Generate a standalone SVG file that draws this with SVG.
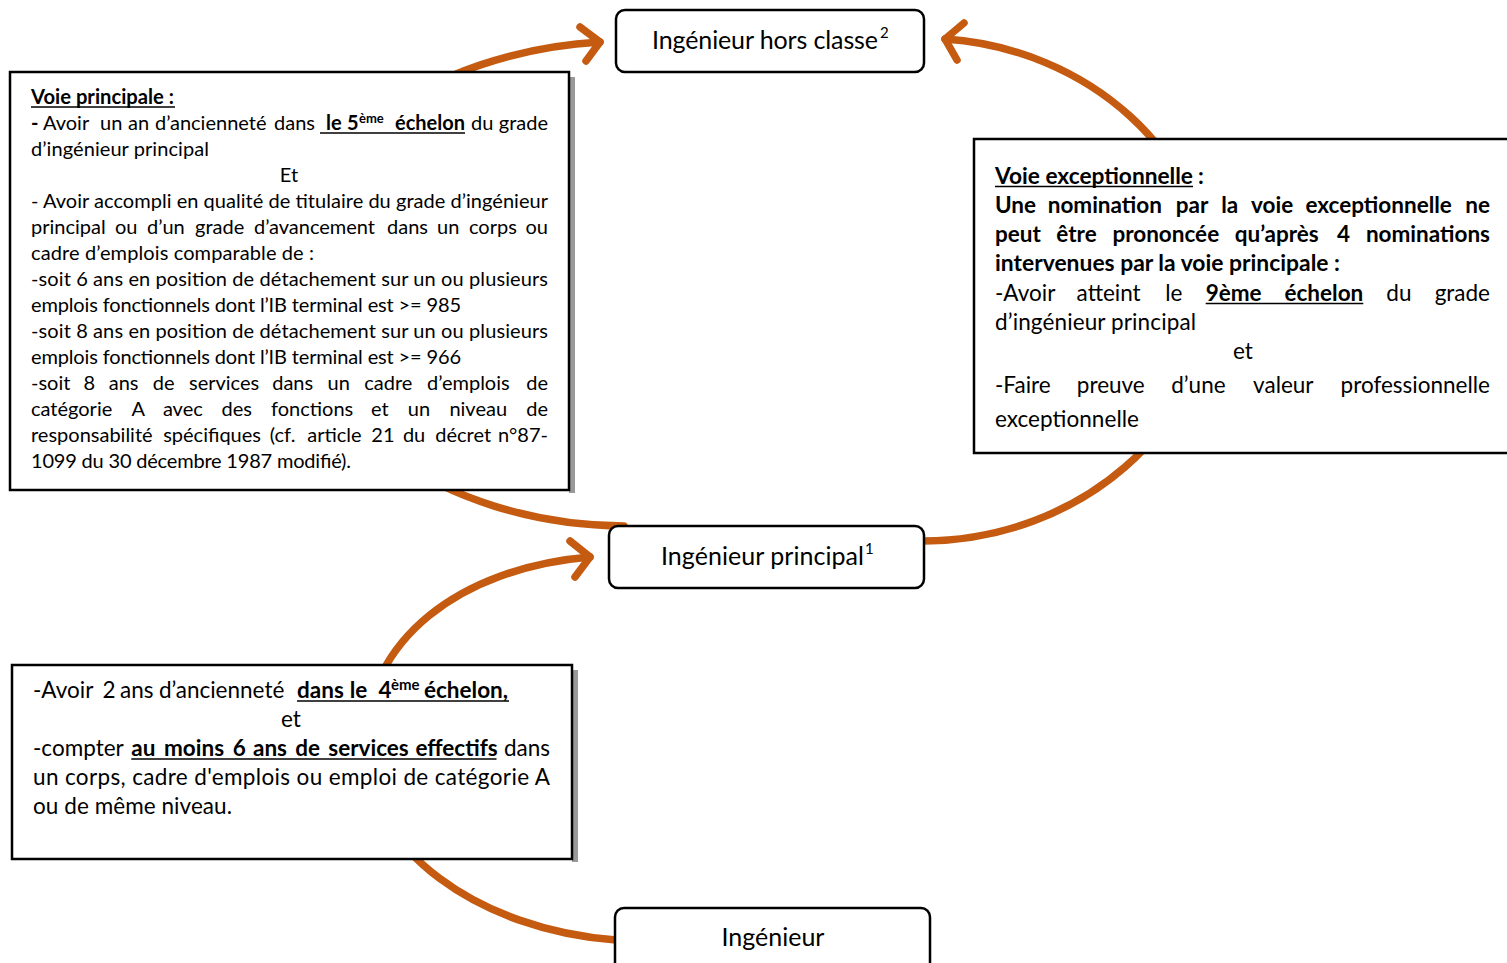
<svg xmlns="http://www.w3.org/2000/svg" width="1507" height="963" viewBox="0 0 1507 963">
<style>
.conn{fill:none;stroke:#C55A11;stroke-width:7.5;stroke-linecap:round;stroke-linejoin:round}
.box{fill:#fff;stroke:#000;stroke-width:2.5}
.node{fill:#fff;stroke:#000;stroke-width:2.5}
.shadow{fill:#999}
text{font-family:Lato,"Liberation Sans",sans-serif;fill:#000}
.s20{font-size:20px}
.s22{font-size:22.5px}
.s25{font-size:25px}
.sup{font-size:13px}
.sup2{font-size:15px}
.b{font-weight:700}
.e{text-anchor:end}
.m{text-anchor:middle}
.ul{stroke:#000;stroke-width:1.6}
</style>
<rect width="1507" height="963" fill="#fff"/>
<g id="connectors">
<path class="conn" d="M616 940 C480 930 365 850 365 746 C365 640 460 568 590 557"/>
<polyline class="conn" points="570,541 590,557 575,577"/>
<path class="conn" d="M624 526 C442 525 290 416 290 283 C290 150 430 52 600 42"/>
<polyline class="conn" points="580,27 600,42 586,61"/>
<path class="conn" d="M924 541 C1079 540 1210 428 1210 290 C1210 152 1085 48 945 39"/>
<polyline class="conn" points="964,23 945,39 957,60"/>
</g>
<g id="voie-principale">
<rect class="shadow" x="569" y="77" width="6" height="416"/>
<rect class="box" x="10" y="72" width="559" height="418"/>
<text class="s20 b" x="31" y="104" textLength="143" lengthAdjust="spacingAndGlyphs">Voie principale :</text>
<line class="ul" x1="31" y1="107" x2="175" y2="107"/>
<text class="s20" y="130"><tspan class="b" x="31">-</tspan><tspan x="43">Avoir</tspan><tspan x="100">un</tspan><tspan x="128">an</tspan><tspan x="155">d’ancienneté</tspan><tspan x="274">dans</tspan><tspan class="b" x="326">le</tspan><tspan class="b" x="347">5</tspan><tspan class="b sup" x="359" y="123">ème</tspan><tspan class="b" x="395" y="130">échelon</tspan><tspan x="471">du</tspan></text>
<text class="s20 e" x="548" y="130">grade</text>
<line class="ul" x1="320" y1="133" x2="465" y2="133"/>
<text class="s20" x="31" y="156" textLength="178">d’ingénieur principal</text>
<text class="s20 m" x="289" y="182">Et</text>
<text class="s20" x="31" y="208" textLength="517">- Avoir accompli en qualité de titulaire du grade d’ingénieur</text>
<text class="s20" y="234"><tspan x="31">principal</tspan><tspan x="115">ou</tspan><tspan x="147">d’un</tspan><tspan x="195">grade</tspan><tspan x="254">d’avancement</tspan><tspan x="387">dans</tspan><tspan x="437">un</tspan><tspan x="469">corps</tspan></text>
<text class="s20 e" x="548" y="234">ou</text>
<text class="s20" x="31" y="260" textLength="283">cadre d’emplois comparable de :</text>
<text class="s20" x="31" y="286" textLength="517">-soit 6 ans en position de détachement sur un ou plusieurs</text>
<text class="s20" x="31" y="312" textLength="430">emplois fonctionnels dont l’IB terminal est &gt;= 985</text>
<text class="s20" x="31" y="338" textLength="517">-soit 8 ans en position de détachement sur un ou plusieurs</text>
<text class="s20" x="31" y="364" textLength="430">emplois fonctionnels dont l’IB terminal est &gt;= 966</text>
<text class="s20" y="390"><tspan x="31">-soit</tspan><tspan x="83.5">8</tspan><tspan x="108.7">ans</tspan><tspan x="152.8">de</tspan><tspan x="189">services</tspan><tspan x="272.2">dans</tspan><tspan x="327.5">un</tspan><tspan x="364.3">cadre</tspan><tspan x="427.1">d’emplois</tspan></text>
<text class="s20 e" x="548" y="390">de</text>
<text class="s20" y="416"><tspan x="31">catégorie</tspan><tspan x="131.4">A</tspan><tspan x="162.9">avec</tspan><tspan x="221.6">des</tspan><tspan x="271">fonctions</tspan><tspan x="370.9">et</tspan><tspan x="407.8">un</tspan><tspan x="449.4">niveau</tspan></text>
<text class="s20 e" x="548" y="416">de</text>
<text class="s20" y="442"><tspan x="31">responsabilité</tspan><tspan x="163.2">spécifiques</tspan><tspan x="269.8">(cf.</tspan><tspan x="307.2">article</tspan><tspan x="371.3">21</tspan><tspan x="402.9">du</tspan><tspan x="435.3">décret</tspan></text>
<text class="s20 e" x="548" y="442">n°87-</text>
<text class="s20" x="31" y="468" textLength="320">1099 du 30 décembre 1987 modifié).</text>
</g>
<g id="voie-exceptionnelle">
<rect class="box" x="974" y="139" width="540" height="314"/>
<text class="s22 b" x="995" y="183.5" textLength="198" lengthAdjust="spacingAndGlyphs">Voie exceptionnelle</text>
<text class="s22 b" x="1198" y="183.5">:</text>
<line class="ul" x1="995" y1="186.5" x2="1193" y2="186.5"/>
<text class="s22 b" y="212.7"><tspan x="995">Une</tspan><tspan x="1047.7">nomination</tspan><tspan x="1175.8">par</tspan><tspan x="1221.2">la</tspan><tspan x="1251.1">voie</tspan><tspan x="1305.5">exceptionnelle</tspan></text>
<text class="s22 b e" x="1490" y="212.7">ne</text>
<text class="s22 b" y="242"><tspan x="995">peut</tspan><tspan x="1056.3">être</tspan><tspan x="1112.4">prononcée</tspan><tspan x="1234.7">qu’après</tspan><tspan x="1336.9">4</tspan></text>
<text class="s22 b e" x="1490" y="242">nominations</text>
<text class="s22 b" x="995" y="271.2" textLength="345" lengthAdjust="spacingAndGlyphs">intervenues par la voie principale :</text>
<text class="s22" y="300.5"><tspan x="995">-Avoir</tspan><tspan x="1076.6">atteint</tspan><tspan x="1165.3">le</tspan><tspan class="b" x="1205.7">9ème</tspan><tspan class="b" x="1284.5">échelon</tspan><tspan x="1386.3">du</tspan></text>
<text class="s22 e" x="1490" y="300.5">grade</text>
<line class="ul" x1="1205.7" y1="303.5" x2="1363.3" y2="303.5"/>
<text class="s22" x="995" y="329.5" textLength="201">d’ingénieur principal</text>
<text class="s22 m" x="1243" y="358.5">et</text>
<text class="s22" y="392.5"><tspan x="995">-Faire</tspan><tspan x="1076.8">preuve</tspan><tspan x="1171.2">d’une</tspan><tspan x="1253.1">valeur</tspan></text>
<text class="s22 e" x="1490" y="392.5">professionnelle</text>
<text class="s22" x="995" y="426.5" textLength="144">exceptionnelle</text>
</g>
<g id="conditions-principal">
<rect class="shadow" x="572" y="670" width="6" height="192"/>
<rect class="box" x="12" y="665" width="560" height="194"/>
<text class="s22" y="698"><tspan x="33">-Avoir</tspan><tspan x="102.4">2</tspan><tspan x="120">ans</tspan><tspan x="158.9">d’ancienneté</tspan><tspan class="b" x="297.1">dans</tspan><tspan class="b" x="349.7">le</tspan><tspan class="b" x="378.5">4</tspan><tspan class="b sup2" x="391" y="690">ème</tspan><tspan class="b" x="424" y="698">échelon,</tspan></text>
<line class="ul" x1="297" y1="701" x2="509" y2="701"/>
<text class="s22 m" x="291" y="727">et</text>
<text class="s22" y="756"><tspan x="33">-compter</tspan><tspan class="b" x="131.3">au</tspan><tspan class="b" x="164">moins</tspan><tspan class="b" x="232.8">6</tspan><tspan class="b" x="253">ans</tspan><tspan class="b" x="295.3">de</tspan><tspan class="b" x="328.3">services</tspan><tspan class="b" x="415.4">effectifs</tspan></text>
<text class="s22 e" x="550" y="756">dans</text>
<line class="ul" x1="131.3" y1="759" x2="496.5" y2="759"/>
<text class="s22" x="33" y="785" textLength="517">un corps, cadre d'emplois ou emploi de catégorie A</text>
<text class="s22" x="33" y="814" textLength="199">ou de même niveau.</text>
</g>
<g id="ingenieur-hors-classe">
<rect class="node" x="616" y="10" width="308" height="62" rx="9"/>
<text class="s25" x="652" y="49" textLength="226">Ingénieur hors classe</text>
<text class="sup2" x="880" y="38">2</text>
</g>
<g id="ingenieur-principal">
<rect class="node" x="609" y="526" width="315" height="62" rx="9"/>
<text class="s25" x="661" y="565" textLength="203">Ingénieur principal</text>
<text class="sup2" x="865" y="554">1</text>
</g>
<g id="ingenieur">
<rect class="node" x="615" y="908" width="315" height="75" rx="9"/>
<text class="s25 m" x="773" y="946">Ingénieur</text>
</g>
</svg>
